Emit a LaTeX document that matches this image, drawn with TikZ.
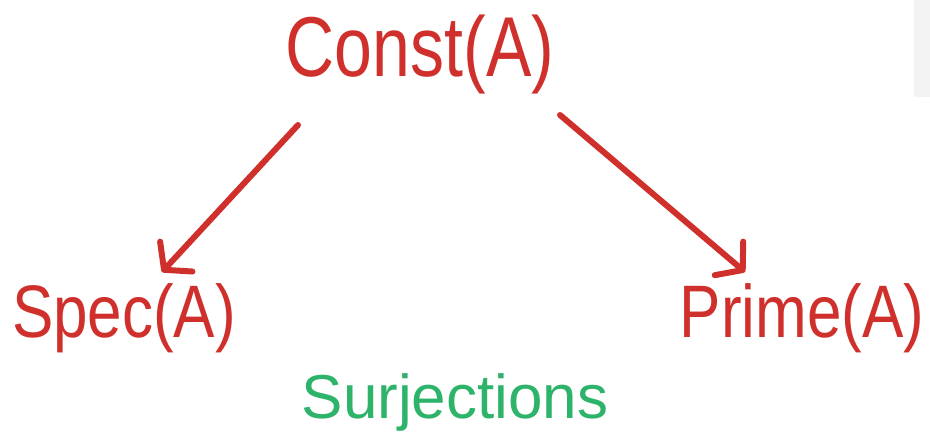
\documentclass[tikz,border=0pt]{standalone}
\usepackage{fontspec}
\setmainfont{Liberation Sans}
\usetikzlibrary{arrows.meta,calc}
\definecolor{inkred}{HTML}{D0302C}
\definecolor{inkgreen}{HTML}{2DB36A}
\definecolor{paper}{HTML}{F3F3F3}
\tikzset{
  lbl/.style={inner sep=0pt, text=inkred, font=\fontsize{62}{70}\selectfont},
  arr/.style={draw=inkred, line width=6pt, line cap=round, line join=round,
    -{Straight Barb[length=18pt, width=44pt, line width=6pt, round]}},
}
\begin{document}
\begin{tikzpicture}[x=1pt,y=-1pt]
\useasboundingbox (0,0) rectangle (930,443);
\fill[paper] (914,0) rectangle (930,97);
\node[lbl, font=\fontsize{68}{76}\selectfont] (const) at (420,55) {\scalebox{1}[1.25]{Const(A)}};
\node[lbl] (spec) at (124,318) {\scalebox{1}[1.2]{Spec(A)}};
\node[lbl] (prime) at (802,318) {\scalebox{1}[1.2]{Prime(A)}};
\node[lbl, text=inkgreen] (surj) at (455,402) {Surjections};
\draw[arr] ($(const.center)+(-122,70)$) -- ($(spec.center)+(38,-46)$);
\draw[arr] ($(const.center)+(140,60)$) -- ($(prime.center)+(-57,-46)$);
\end{tikzpicture}
\end{document}
